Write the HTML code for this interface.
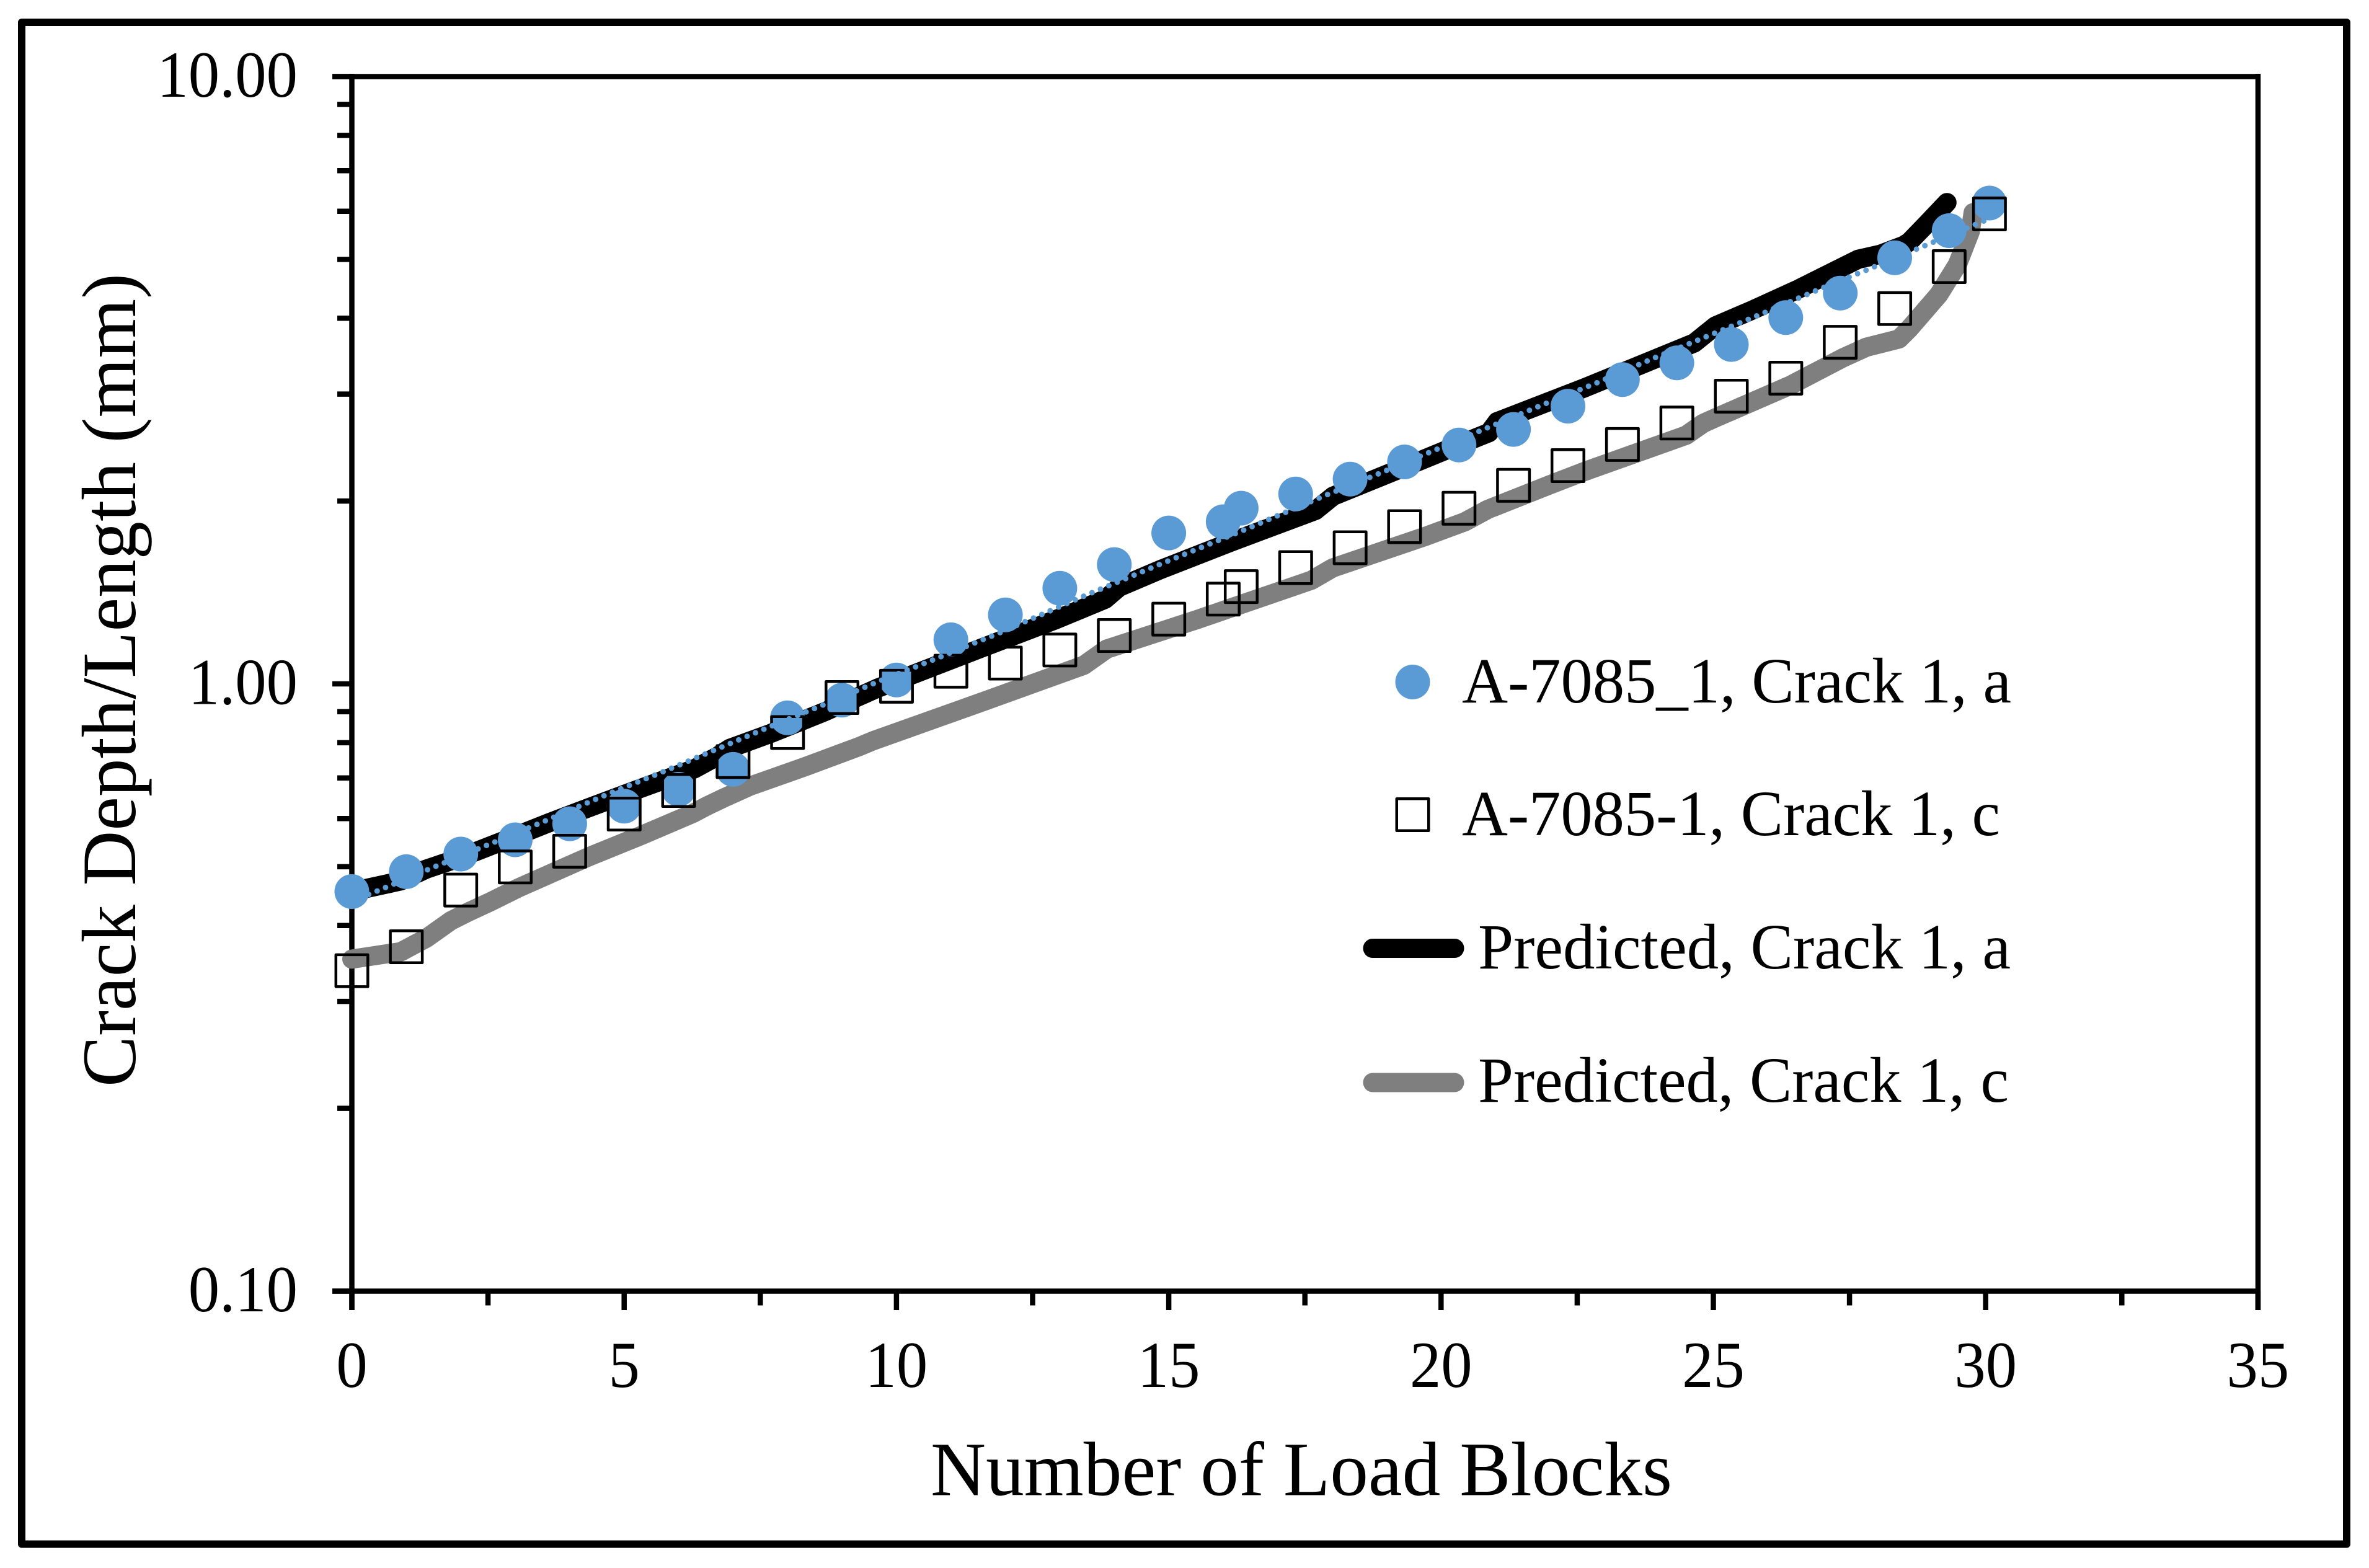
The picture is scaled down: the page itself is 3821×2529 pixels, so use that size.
<!DOCTYPE html>
<html lang="en">
<head>
<meta charset="utf-8">
<title>Crack Depth/Length vs Number of Load Blocks</title>
<style>
html,body{margin:0;padding:0;background:#fff;}
svg{display:block;}
text{font-family:"Liberation Serif","Times New Roman",serif;fill:#000;}
</style>
</head>
<body>
<svg id="chart" xmlns="http://www.w3.org/2000/svg" width="3821" height="2529" viewBox="0 0 3821 2529">
  <rect x="0" y="0" width="3821" height="2529" fill="#ffffff"/>
  <rect x="35" y="36" width="3750" height="2454.5" fill="none" stroke="#000" stroke-width="12" stroke-linejoin="round"/>
  <g id="plot-border" stroke="#000" stroke-width="8.5" fill="none">
    <line x1="536" y1="123.5" x2="3646" y2="123.5"/>
    <line x1="536" y1="2082.5" x2="3646" y2="2082.5"/>
    <line x1="567.5" y1="119" x2="567.5" y2="2113"/>
    <line x1="3642" y1="119" x2="3642" y2="2113"/>
  </g>
  <g id="ticks"></g>
  <g id="tick-labels"></g>
  <g id="series"></g>

  <text x="1501" y="2411.5" font-size="124" textLength="1196" lengthAdjust="spacingAndGlyphs">Number of Load Blocks</text>
  <text transform="translate(218,1753) rotate(-90)" font-size="124" textLength="1312" lengthAdjust="spacingAndGlyphs">Crack Depth/Length (mm)</text>

  <g>
    <circle cx="2278.5" cy="1100" r="28" fill="#5b9bd5"/>
    <text x="2358" y="1133" font-size="104" textLength="886" lengthAdjust="spacingAndGlyphs">A-7085_1, Crack 1, a</text>
    <rect x="2252.75" y="1288.25" width="51.5" height="51.5" fill="#fff" stroke="#000" stroke-width="4.5" stroke-linejoin="round"/>
    <text x="2358" y="1347" font-size="104" textLength="868" lengthAdjust="spacingAndGlyphs">A-7085-1, Crack 1, c</text>
    <line x1="2214" y1="1529.5" x2="2346" y2="1529.5" stroke="#000" stroke-width="31" stroke-linecap="round"/>
    <text x="2384" y="1562" font-size="104" textLength="859" lengthAdjust="spacingAndGlyphs">Predicted, Crack 1, a</text>
    <line x1="2214" y1="1746" x2="2346" y2="1746" stroke="#7f7f7f" stroke-width="31" stroke-linecap="round"/>
    <text x="2384" y="1777" font-size="104" textLength="856" lengthAdjust="spacingAndGlyphs">Predicted, Crack 1, c</text>
  </g>
</svg>

<script>
const measuredBlocks = [0,1,2,3,4,5,6,7,8,9,10,11,12,13,14,15,16,16.33,17.33,18.33,19.33,20.33,21.33,22.33,23.33,24.33,25.33,26.33,27.33,28.33,29.33,30.07];
const measuredA = [0.455,0.4906,0.5245,0.5536,0.5884,0.629,0.6705,0.7231,0.8794,0.94,1.015,1.182,1.299,1.437,1.572,1.772,1.849,1.947,2.054,2.174,2.32,2.474,2.624,2.866,3.17,3.377,3.621,4.01,4.4,5.03,5.576,6.19];
const measuredC = [0.337,0.369,0.4575,0.4995,0.53,0.6103,0.6675,0.7448,0.8313,0.9495,0.991,1.049,1.082,1.137,1.201,1.278,1.379,1.446,1.554,1.675,1.815,1.946,2.123,2.287,2.479,2.689,2.977,3.187,3.651,4.15,4.865,5.94];

const predictedABlocks = [0,0.894,1.36,2,2.99,3.65,4.35,5.3,6.29,6.71,6.94,7.69,8.68,9.65,11.6,12.91,13.83,14.09,14.87,16.18,17.69,18.02,19.61,20.63,20.88,21.03,22.65,24.65,25.04,25.72,26.55,27.66,28.07,28.49,28.6,28.91,29.29];
const predictedA = [0.455,0.4736,0.4951,0.5178,0.5607,0.592,0.6254,0.6727,0.7246,0.7597,0.783,0.8285,0.8997,0.9837,1.149,1.274,1.378,1.443,1.545,1.717,1.929,2.038,2.329,2.539,2.592,2.703,3.076,3.643,3.886,4.127,4.463,5.003,5.099,5.27,5.345,5.711,6.202];

const predictedCBlocks = [0,0.9,1.36,1.82,2.15,2.53,3.06,4.35,5.3,6.26,6.52,6.83,7.31,8.34,9.32,9.58,11.61,13.44,13.86,15.53,17.62,18.01,19.72,20.44,20.86,22,22.65,24.5,24.81,25.04,26.41,27.38,27.81,28.41,28.6,29.14,29.48,29.72,29.77];
const predictedC = [0.3522,0.3622,0.3809,0.4074,0.4215,0.4371,0.4614,0.5191,0.5622,0.6118,0.6294,0.6488,0.6785,0.7315,0.7886,0.8065,0.9363,1.073,1.141,1.277,1.481,1.552,1.75,1.849,1.938,2.128,2.24,2.567,2.684,2.742,3.101,3.443,3.584,3.698,3.846,4.377,4.898,5.564,5.969];

const dottedBlocks = [0,0.495,1.49,2.5,3.5,4.67,5.68,6.68,7.68,8.68,9.68,10.37,11.87,13.37,14.87,16.38,17.88,18.89,19.89,20.88,21.89,22.9,23.9,24.9,25.9,26.91,27.92,28.92,29.92,30.07];
const dottedValues = [0.4383,0.4571,0.4985,0.5432,0.592,0.6567,0.7145,0.7794,0.8503,0.9254,1.01,1.068,1.211,1.386,1.578,1.792,2.044,2.225,2.427,2.647,2.887,3.142,3.436,3.739,4.072,4.45,4.847,5.283,5.762,5.832];

const xMajorTicks = [0,5,10,15,20,25,30,35];
const xMinorTicks = [2.5,7.5,12.5,17.5,22.5,27.5,32.5];
const yMajorTicks = [0.1,1,10];
const yTickLabels = ["0.10","1.00","10.00"];
const yMinorTicks = [0.2,0.3,0.4,0.5,0.6,0.7,0.8,0.9,2,3,4,5,6,7,8,9];

function xScale(v){ return 567.5 + v * 87.84; }
function yScale(v){ return 2082.5 - (Math.log10(v) + 1) * 979.5; }

const SVG_NS = 'http://www.w3.org/2000/svg';
const ticksGroup = document.getElementById('ticks');
const labelsGroup = document.getElementById('tick-labels');
const seriesGroup = document.getElementById('series');

function tickLine(x1, y1, x2, y2){
  const l = document.createElementNS(SVG_NS, 'line');
  l.setAttribute('x1', x1);
  l.setAttribute('y1', y1);
  l.setAttribute('x2', x2);
  l.setAttribute('y2', y2);
  l.setAttribute('stroke', '#000');
  l.setAttribute('stroke-width', '8.5');
  ticksGroup.appendChild(l);
  return l;
}

function tickText(str, x, y, anchor){
  const t = document.createElementNS(SVG_NS, 'text');
  t.setAttribute('transform', 'translate(' + x + ',' + y + ') scale(0.95,1)');
  t.setAttribute('text-anchor', anchor);
  t.setAttribute('font-size', '106');
  t.textContent = str;
  labelsGroup.appendChild(t);
  return t;
}

function linePath(xs, ys, stroke, width, dash){
  const p = document.createElementNS(SVG_NS, 'polyline');
  const pts = xs.map(function(x, i){ return xScale(x).toFixed(1) + ',' + yScale(ys[i]).toFixed(1); });
  p.setAttribute('points', pts.join(' '));
  p.setAttribute('fill', 'none');
  p.setAttribute('stroke', stroke);
  p.setAttribute('stroke-width', width);
  p.setAttribute('stroke-linecap', 'round');
  p.setAttribute('stroke-linejoin', 'round');
  if (dash) p.setAttribute('stroke-dasharray', dash);
  seriesGroup.appendChild(p);
  return p;
}

xMajorTicks.forEach(function(v){
  const tick = tickLine(xScale(v), 2082.5, xScale(v), 2113);
  
  
  const label = tickText(String(v), xScale(v), 2237, 'middle');
  
  
});

xMinorTicks.forEach(function(v){
  const tick = tickLine(xScale(v), 2082.5, xScale(v), 2105.5);
  
  
});

yMajorTicks.forEach(function(v, i){
  const tick = tickLine(536, yScale(v), 567.5, yScale(v));
  
  
  const label = tickText(yTickLabels[i], 480, yScale(v) + 32.5, 'end');
  
  
});

yMinorTicks.forEach(function(v){
  const tick = tickLine(544, yScale(v), 567.5, yScale(v));
  
  
});

const greyLine = linePath(predictedCBlocks, predictedC, '#7f7f7f', 31);



const blackLine = linePath(predictedABlocks, predictedA, '#000000', 31);



measuredBlocks.forEach(function(x, i){
  const c = document.createElementNS(SVG_NS, 'circle');
  c.setAttribute('cx', xScale(x).toFixed(1));
  c.setAttribute('cy', yScale(measuredA[i]).toFixed(1));
  c.setAttribute('r', '28');
  c.setAttribute('fill', '#5b9bd5');
  
  
  seriesGroup.appendChild(c);
});

measuredBlocks.forEach(function(x, i){
  const r = document.createElementNS(SVG_NS, 'rect');
  r.setAttribute('x', (xScale(x) - 25.75).toFixed(1));
  r.setAttribute('y', (yScale(measuredC[i]) - 25.75).toFixed(1));
  r.setAttribute('width', '51.5');
  r.setAttribute('height', '51.5');
  r.setAttribute('fill', 'none');
  r.setAttribute('stroke', '#000');
  r.setAttribute('stroke-width', '4.5');
  r.setAttribute('stroke-linejoin', 'round');
  
  
  seriesGroup.appendChild(r);
});

const dotted = linePath(dottedBlocks, dottedValues, '#5b9bd5', 9, '0 14.7');


</script>
</body>
</html>
